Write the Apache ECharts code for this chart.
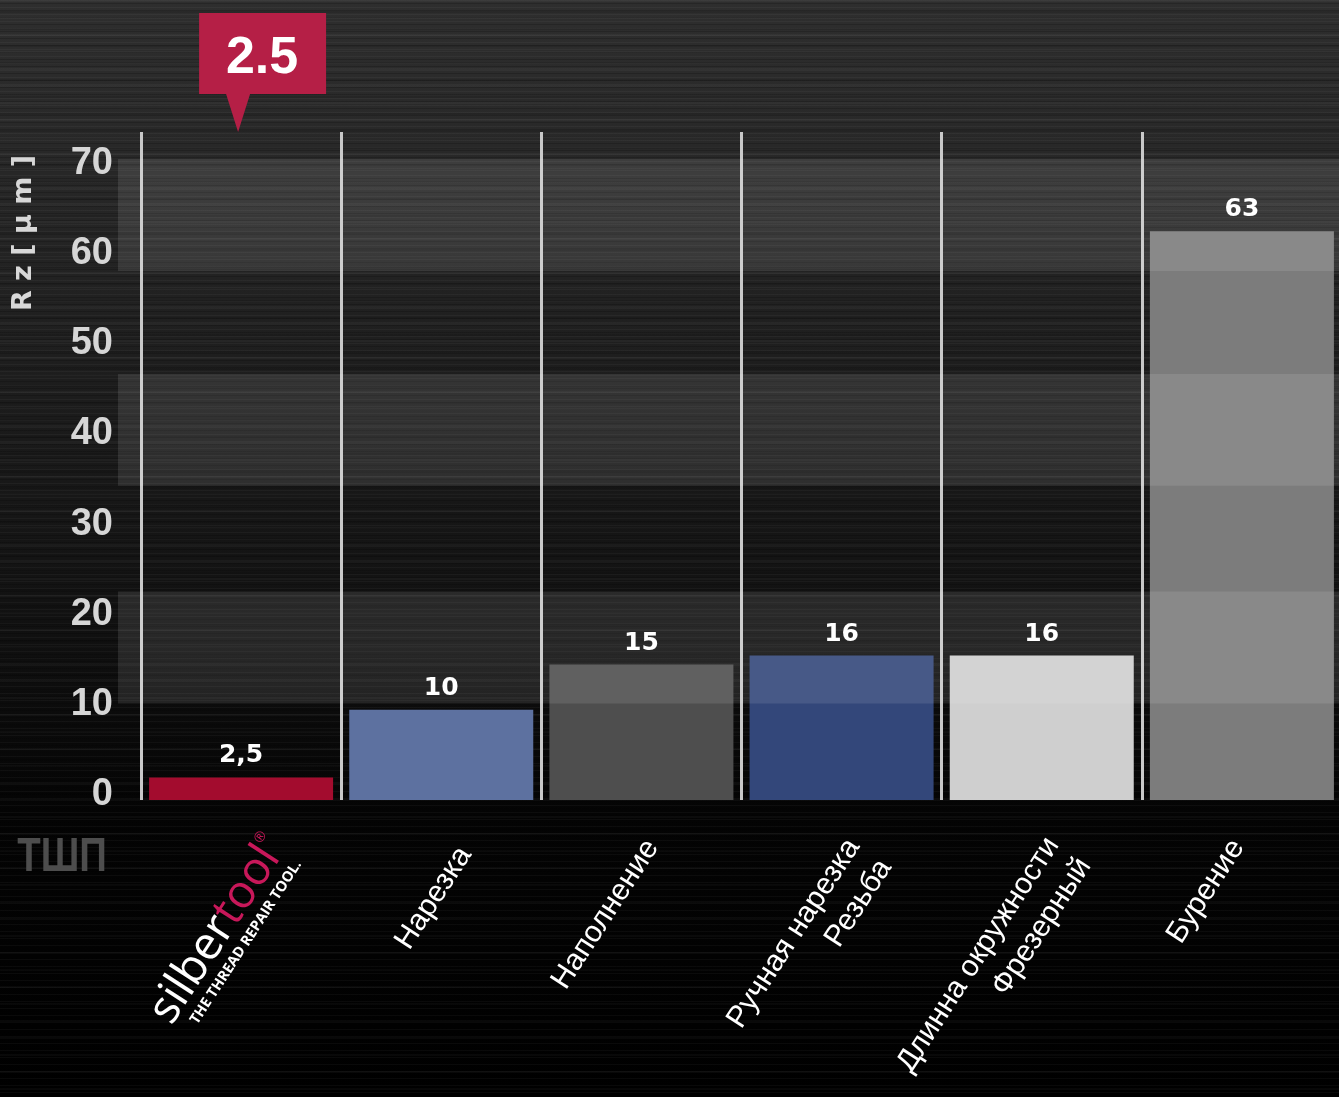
<!DOCTYPE html>
<html>
<head>
<meta charset="utf-8">
<script src="https://cdn.jsdelivr.net/npm/echarts@6/dist/echarts.min.js"></script>
<style>
html,body{margin:0;padding:0;width:1339px;height:1097px;overflow:hidden;}
body{
  background:
    repeating-linear-gradient(to bottom, rgba(255,255,255,0.035) 0 1px, transparent 1px 3px, rgba(0,0,0,0.18) 3px 4px, transparent 4px 7px),
    repeating-linear-gradient(to bottom, rgba(255,255,255,0.03) 0 2px, transparent 2px 11px, rgba(0,0,0,0.12) 11px 13px, transparent 13px 17px),
    linear-gradient(to bottom, #2e2e2e 0%, #262626 18%, #1a1a1a 40%, #0f0f0f 60%, #040404 74%, #000 100%);
}
#chart{width:1339px;height:1097px;}
</style>
</head>
<body>
<div id="chart"></div>
<script>
// ---- data ----
var categories = ['silbertool', 'Нарезка', 'Наполнение', 'Ручная нарезка\nРезьба', 'Длинна окружности\nФрезерный', 'Бурение'];
var values = [2.5, 10, 15, 16, 16, 63];
var yTicks = [0, 10, 20, 30, 40, 50, 60, 70];
var calloutValue = 2.5;
var bandRanges = [[10.7, 23.1], [34.8, 47.2], [58.6, 71.0]];

// ---- styles ----
var barColors = ['#a30c2e', '#5d71a0', '#4e4e4e', '#33477a', '#cfcfcf', '#7c7c7c'];
var labelPaddings = [[104, 3, 0, 0], [79, 17, 0, 0], [49, 18, 0, 0], [88, 17, 0, 0], [85, 16, 0, 0], [24, 26, 0, 0]];

var chart = echarts.init(document.getElementById('chart'), null, {renderer: 'canvas'});

var option = {
  backgroundColor: 'transparent',
  animation: false,
  grid: {left: 141, right: -3, top: 132, bottom: 297, containLabel: false, outerBoundsMode: 'none'},
  xAxis: {
    type: 'category',
    data: categories.map(function (c, i) {
      return {value: c, textStyle: {padding: labelPaddings[i]}};
    }),
    axisLine: {show: false},
    axisTick: {show: false},
    splitLine: {show: true, interval: 0, lineStyle: {color: '#c8c8c8', width: 3}},
    axisLabel: {
      interval: 0,
      rotate: 57,
      margin: 14,
      color: '#ffffff',
      fontFamily: 'Liberation Sans',
      fontSize: 30,
      lineHeight: 38,
      formatter: function (v, i) {
        if (i === 0) {
          return '{w|silber}{r|tool}{sup|®}\n{s|THE THREAD REPAIR TOOL.}';
        }
        return v;
      },
      rich: {
        w: {fontFamily: 'Open Sans', fontSize: 46, color: '#ffffff', align: 'right', lineHeight: 44},
        r: {fontFamily: 'Open Sans', fontSize: 46, color: '#c8185a', align: 'right', lineHeight: 44},
        sup: {fontFamily: 'Open Sans', fontSize: 14, color: '#c8185a', align: 'right', verticalAlign: 'top', lineHeight: 44, padding: [0, 0, 22, 0]},
        s: {fontFamily: 'Open Sans', fontWeight: 'bold', fontSize: 14.5, color: '#ffffff', align: 'right', lineHeight: 16, padding: [0, 6, 0, 0]}
      }
    }
  },
  yAxis: {
    type: 'value',
    min: 0,
    max: 74,
    interval: 10,
    axisLine: {show: false},
    axisTick: {show: false},
    splitLine: {show: false},
    axisLabel: {
      showMaxLabel: false,
      margin: 28,
      color: '#d6d6d6',
      fontFamily: 'Liberation Sans',
      fontWeight: 'bold',
      fontSize: 38,
      verticalAlign: 'bottom',
      lineHeight: 10,
      formatter: function (v) { return yTicks.indexOf(v) >= 0 ? String(v) : ''; }
    }
  },
  series: [{
    type: 'bar',
    barWidth: 184,
    z: 3,
    data: values.map(function (v, i) {
      return {value: v, itemStyle: {color: barColors[i]}};
    }),
    label: {
      show: true,
      position: 'top',
      distance: 9,
      color: '#ffffff',
      fontFamily: 'DejaVu Sans',
      fontWeight: 'bold',
      fontSize: 25,
      formatter: function (p) { return String(p.value).replace('.', ','); }
    },
    markPoint: {
      silent: true,
      symbol: 'path://M0 0 H127 V81 H51 L39 119 L27 81 H0 Z',
      symbolSize: [127, 119],
      symbolOffset: [21.5, -59.5],
      itemStyle: {color: '#b51f46'},
      label: {
        show: true,
        position: 'inside',
        offset: [-0.5, -13.5],
        color: '#ffffff',
        fontFamily: 'Liberation Sans',
        fontWeight: 'bold',
        fontSize: 52,
        formatter: function (p) { return String(p.value); }
      },
      data: [{coord: [0, 74], value: calloutValue}]
    }
  }]
};
chart.setOption(option);

// decorative translucent bands (positions computed from the value axis)
var bandRects = bandRanges.map(function (r) {
  var yTop = chart.convertToPixel({yAxisIndex: 0}, r[1]);
  var yBot = chart.convertToPixel({yAxisIndex: 0}, r[0]);
  return {
    type: 'rect',
    z: 10,
    silent: true,
    shape: {x: 118, y: yTop, width: 1339 - 118, height: yBot - yTop},
    style: {fill: 'rgba(255,255,255,0.10)'}
  };
});

chart.setOption({
  graphic: bandRects.concat([
    {
      type: 'text',
      z: 20,
      x: 24, y: 233,
      rotation: Math.PI / 2,
      style: {
        text: 'R z [ µ m ]',
        fill: '#d8d8d8',
        font: 'bold 27px "DejaVu Sans"',
        textAlign: 'center',
        textVerticalAlign: 'middle'
      }
    },
    {
      type: 'text',
      z: 20,
      x: 62, y: 858,
      scaleX: 0.8,
      style: {
        text: 'ТШП',
        fill: '#4d4d4d',
        font: 'bold 48px "Liberation Sans"',
        textAlign: 'center',
        textVerticalAlign: 'middle'
      }
    }
  ])
});
</script>
</body>
</html>
